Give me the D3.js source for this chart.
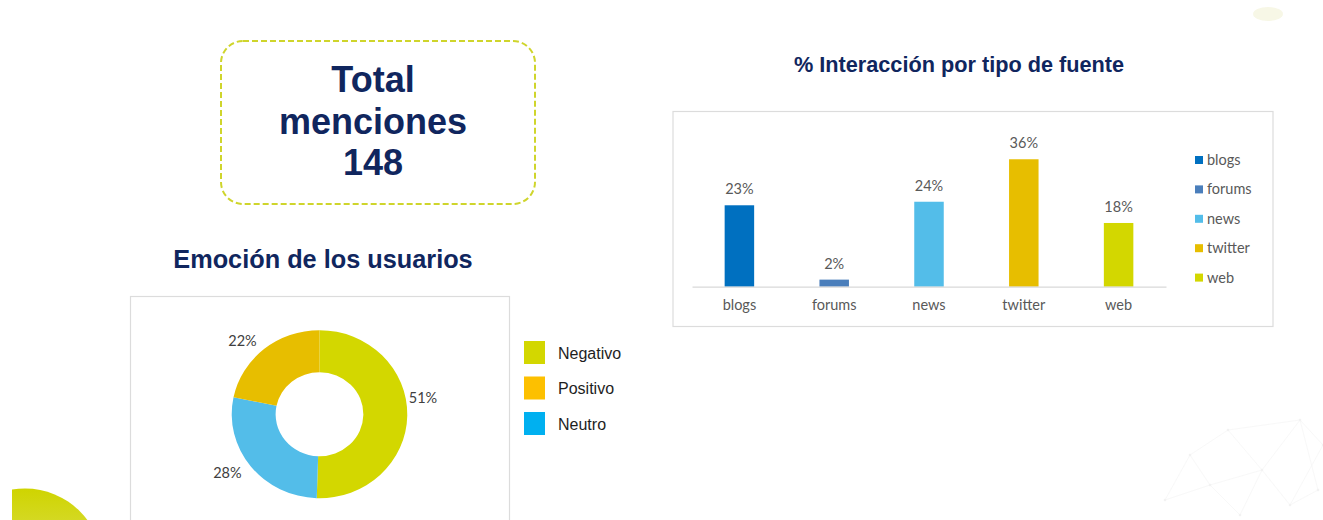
<!DOCTYPE html>
<html>
<head>
<meta charset="utf-8">
<script src="https://cdn.jsdelivr.net/npm/d3@7"></script>
<style>
  html, body { margin: 0; padding: 0; background: #ffffff; }
  svg { display: block; }
</style>
</head>
<body>
<svg id="chart" width="1323" height="520"></svg>
<script>
// ---- data ----
const totalMentions = 148;

const emotionCategories = ["Negativo", "Neutro", "Positivo"];
const emotionValues = [51, 28, 22];
const emotionLegendOrder = ["Negativo", "Positivo", "Neutro"];

const sourceCategories = ["blogs", "forums", "news", "twitter", "web"];
const sourceValues = [23, 2, 24, 36, 18];

// ---- styles ----
const navy = "#10265e";
const sliceColor = { Negativo: "#d3d700", Neutro: "#53bde9", Positivo: "#e7be00" };
const legendSwatch = { Negativo: "#d3d700", Positivo: "#fdc000", Neutro: "#00b0f0" };
const barColor = { blogs: "#0070c0", forums: "#4a7ebb", news: "#53bde9", twitter: "#e7be00", web: "#d3d700" };
const officeFont = "Lato, 'Open Sans', sans-serif";
const arialFont = "'Liberation Sans', Arial, sans-serif";

const svg = d3.select("#chart");
const defs = svg.append("defs");

// ---- background decoration ----
const grad = defs.append("linearGradient").attr("id", "blobGrad")
  .attr("x1", 0).attr("y1", 0).attr("x2", 0).attr("y2", 1);
grad.append("stop").attr("offset", "0%").attr("stop-color", "#cfd400");
grad.append("stop").attr("offset", "45%").attr("stop-color", "#dade4a");
grad.append("stop").attr("offset", "100%").attr("stop-color", "#e4e77a");
defs.append("clipPath").attr("id", "blobClip")
  .append("rect").attr("x", 12).attr("y", 0).attr("width", 300).attr("height", 520);
svg.append("circle")
  .attr("cx", 25).attr("cy", 566).attr("r", 77.5)
  .attr("fill", "url(#blobGrad)")
  .attr("clip-path", "url(#blobClip)");

svg.append("ellipse")
  .attr("cx", 1268).attr("cy", 14).attr("rx", 15).attr("ry", 7)
  .attr("fill", "#f4f4dc").attr("opacity", 0.7);

// faint network mesh in the lower right corner
const meshNodes = [[1165, 500], [1190, 455], [1228, 430], [1262, 470], [1300, 420], [1323, 445],
                   [1240, 515], [1290, 505], [1210, 485], [1318, 490]];
const meshLinks = [[0, 1], [1, 2], [2, 3], [3, 4], [4, 5], [1, 8], [8, 3], [3, 6], [6, 8], [3, 7],
                   [7, 9], [9, 4], [2, 4], [0, 8], [7, 5]];
const mesh = svg.append("g").attr("stroke", "#eeeeee").attr("stroke-width", 0.7).attr("opacity", 0.55);
mesh.selectAll("line").data(meshLinks).join("line")
  .attr("x1", d => meshNodes[d[0]][0]).attr("y1", d => meshNodes[d[0]][1])
  .attr("x2", d => meshNodes[d[1]][0]).attr("y2", d => meshNodes[d[1]][1]);
mesh.selectAll("circle").data(meshNodes).join("circle")
  .attr("cx", d => d[0]).attr("cy", d => d[1]).attr("r", 1.3)
  .attr("fill", "#e8e8e8").attr("stroke", "none");

// ---- total mentions card ----
const card = svg.append("g");
card.append("rect")
  .attr("x", 221).attr("y", 41).attr("width", 314).attr("height", 163)
  .attr("rx", 22).attr("ry", 22)
  .attr("fill", "none").attr("stroke", "#cfd52c")
  .attr("stroke-width", 2).attr("stroke-dasharray", "6,3");
const cardLines = ["Total", "menciones", String(totalMentions)];
card.selectAll("text").data(cardLines).join("text")
  .attr("x", 373).attr("y", (d, i) => 92 + i * 41.7)
  .attr("text-anchor", "middle")
  .attr("font-family", arialFont).attr("font-weight", "bold")
  .attr("font-size", 36).attr("fill", navy)
  .text(d => d);

// ---- emotion donut ----
svg.append("text")
  .attr("x", 323).attr("y", 268)
  .attr("text-anchor", "middle")
  .attr("font-family", arialFont).attr("font-weight", "bold")
  .attr("font-size", 25.3).attr("fill", navy)
  .text("Emoción de los usuarios");

svg.append("rect")
  .attr("x", 130.5).attr("y", 296.5).attr("width", 379).attr("height", 240)
  .attr("fill", "#ffffff").attr("stroke", "#dcdcdc").attr("stroke-width", 1.2);

const emotionData = emotionCategories.map((c, i) => ({ category: c, value: emotionValues[i] }));
const pie = d3.pie().value(d => d.value).sort(null);
const arcs = pie(emotionData);
const outerR = 84, innerR = 42, stretchX = 1.045;
const cx = 319.5, cy = 414.2;
const arc = d3.arc().innerRadius(innerR).outerRadius(outerR);
const labelArc = d3.arc().innerRadius(95).outerRadius(95);

const donut = svg.append("g").attr("transform", `translate(${cx},${cy})`);
donut.append("g").attr("transform", `scale(${stretchX},1)`)
  .selectAll("path").data(arcs).join("path")
  .attr("d", arc)
  .attr("fill", d => sliceColor[d.data.category]);

// label placement tweak for the wide right slice
const labelShift = { Negativo: [-10, -18], Neutro: [0, 0], Positivo: [0, 0] };
donut.selectAll("text").data(arcs).join("text")
  .each(function (d) {
    const [lx, ly] = labelArc.centroid(d);
    const s = labelShift[d.data.category];
    d3.select(this)
      .attr("x", lx * stretchX + s[0])
      .attr("y", ly + s[1] + 5)
      .attr("text-anchor", lx > 0 ? "start" : "end");
  })
  .attr("font-family", officeFont).attr("font-size", 14.5).attr("fill", "#404040")
  .text(d => d.data.value + "%");

const emoLegend = svg.append("g").selectAll("g").data(emotionLegendOrder).join("g")
  .attr("transform", (d, i) => `translate(524,${341 + i * 35.5})`);
emoLegend.append("rect")
  .attr("width", 21).attr("height", 23)
  .attr("fill", d => legendSwatch[d]);
emoLegend.append("text")
  .attr("x", 34).attr("y", 17.5)
  .attr("font-family", arialFont).attr("font-size", 16).attr("fill", "#1e1e1e")
  .text(d => d);

// ---- interaction by source bar chart ----
svg.append("text")
  .attr("x", 959).attr("y", 72)
  .attr("text-anchor", "middle")
  .attr("font-family", arialFont).attr("font-weight", "bold")
  .attr("font-size", 21.7).attr("fill", navy)
  .text("% Interacción por tipo de fuente");

svg.append("rect")
  .attr("x", 673).attr("y", 111.5).attr("width", 600).attr("height", 215)
  .attr("fill", "#ffffff").attr("stroke", "#dcdcdc").attr("stroke-width", 1.2);

const x = d3.scaleBand().domain(sourceCategories).range([692, 1166]).padding(0);
const y = d3.scaleLinear().domain([0, 40]).range([286.7, 145.1]);
const barW = 29.5;

const bars = svg.append("g");
bars.selectAll("rect").data(sourceCategories).join("rect")
  .attr("x", d => x(d) + x.bandwidth() / 2 - barW / 2)
  .attr("y", (d, i) => y(sourceValues[i]))
  .attr("width", barW)
  .attr("height", (d, i) => y(0) - y(sourceValues[i]))
  .attr("fill", d => barColor[d]);

bars.selectAll("text.value").data(sourceCategories).join("text")
  .attr("class", "value")
  .attr("x", d => x(d) + x.bandwidth() / 2)
  .attr("y", (d, i) => y(sourceValues[i]) - 11)
  .attr("text-anchor", "middle")
  .attr("font-family", officeFont).attr("font-size", 14.5).attr("fill", "#595959")
  .text((d, i) => sourceValues[i] + "%");

const xAxis = svg.append("g")
  .attr("transform", `translate(0,${y(0)})`)
  .call(d3.axisBottom(x).tickSize(0).tickPadding(13));
xAxis.select(".domain").attr("stroke", "#d9d9d9").attr("stroke-width", 1.2);
xAxis.selectAll("text")
  .attr("font-family", officeFont).attr("font-size", 14.5).attr("fill", "#595959");

const srcLegend = svg.append("g").selectAll("g").data(sourceCategories).join("g")
  .attr("transform", (d, i) => `translate(1195,${160 + i * 29.4})`);
srcLegend.append("rect")
  .attr("x", 0).attr("y", -4).attr("width", 8).attr("height", 8)
  .attr("fill", d => barColor[d]);
srcLegend.append("text")
  .attr("x", 12).attr("y", 5)
  .attr("font-family", officeFont).attr("font-size", 14.5).attr("fill", "#595959")
  .text(d => d);
</script>
</body>
</html>
